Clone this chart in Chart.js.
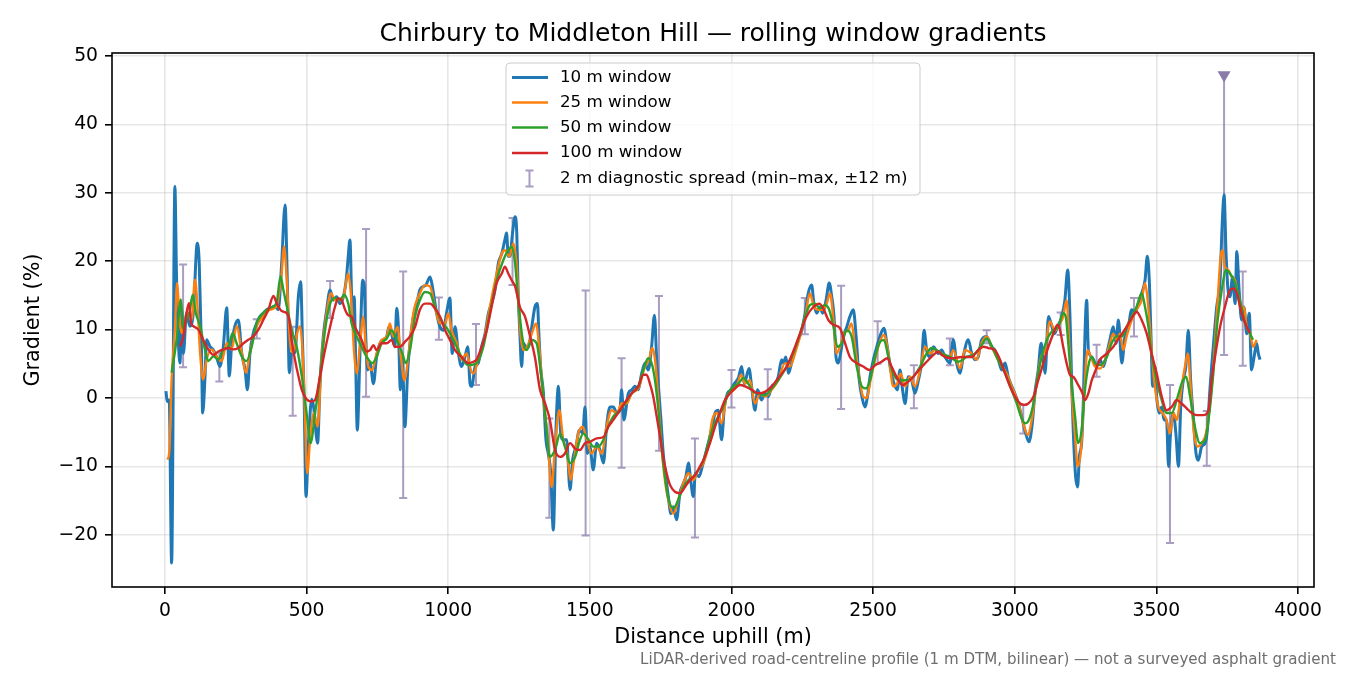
<!DOCTYPE html>
<html>
<head>
<meta charset="utf-8">
<title>Chirbury to Middleton Hill — rolling window gradients</title>
<script src="https://cdn.jsdelivr.net/npm/chart.js@4.4.0/dist/chart.umd.min.js"></script>
<style>
  body { margin: 0; background: #fff; }
  #contenedor { width: 1350px; height: 675px; }
</style>
</head>
<body>
<div id="contenedor"><canvas id="grafica" width="1350" height="675"></canvas></div>
<script>
  //Grafica de pendientes
  const $grafica = document.querySelector("#grafica");
  const titulo = "Chirbury to Middleton Hill \u2014 rolling window gradients";
  const nota = "LiDAR-derived road-centreline profile (1 m DTM, bilinear) \u2014 not a surveyed asphalt gradient";
  const etiquetas = ["10 m window", "25 m window", "50 m window", "100 m window", "2 m diagnostic spread (min\u2013max, \u00b112 m)"];
  const colores = ['#1f77b4', '#ff7f0e', '#2ca02c', '#d62728'];
  const colorError = 'rgba(112, 92, 152, 0.6)';
  const colorMarca = '#8a7aa8';

  //Ejes
  const ticksX = [0, 500, 1000, 1500, 2000, 2500, 3000, 3500, 4000];
  const ticksY = [-20, -10, 0, 10, 20, 30, 40, 50];
  const rangoX = [-187, 4056.5];
  const rangoY = [-27.62, 50.42];

  //Ventana 10 m
  const dist_10 = [3.5,8,15,23.5,35,41,53,59,65,76,88,100,114,121,129,133,141,147,159,171,182,194,206,218,227,235,247,259,271,283,291,300,312,324,335,347,359,371,388,400,412,424,432,439,447,459,471,479,486,491,498,506,518,526,
    530,539,547,559,571,583,594,606,618,630,641,647,653,659,665,668,673,679,688,698,704,708,716,724,736,747,759,771,783,791,800,812,818,824,831,838,847,857,865,877,889,900,912,921,936,944,959,971,983,994,1006,1014,1024,1036,1047,1059,1069,1077,
    1083,1095,1106,1118,1130,1142,1153,1165,1177,1189,1200,1206,1212,1218,1227,1236,1242,1247,1253,1259,1265,1275,1283,1295,1306,1315,1320,1326,1336,1345,1353,1362,1371,1380,1389,1397,1406,1418,1430,1439,1451,1463,1475,1483,1491,1500,1512,1524,1536,1548,1559,1571,1583,1595,1606,1612,1620,
    1636,1648,1659,1671,1683,1695,1706,1718,1728,1736,1744,1751,1759,1768,1777,1786,1795,1806,1818,1830,1839,1848,1856,1865,1873,1885,1897,1909,1921,1932,1942,1953,1965,1975,1986,1998,2010,2024,2036,2045,2062,2071,2083,2092,2106,2118,2130,2142,2154,2165,2177,
    2183,2192,2201,2212,2224,2236,2248,2260,2271,2283,2291,2301,2312,2322,2334,2345,2354,2362,2369,2377,2385,2395,2407,2418,2430,2440,2451,2463,2471,2480,2489,2501,2513,2524,2538,2550,2562,2574,2585,2595,2604,2613,2624,2636,2648,2660,2671,2680,2689,2701,2713,
    2730,2742,2754,2771,2783,2795,2807,2818,2836,2848,2860,2871,2883,2901,2918,2930,2942,2954,2966,2977,2995,3013,3024,3036,3050,3062,3071,3083,3093,3101,3107,3119,3128,3140,3151,3166,3177,3187,3195,3201,3207,3215,3222,3228,3236,3242,3248,3254,3260,3272,
    3278,3289,3301,3313,3325,3336,3348,3358,3366,3378,3389,3401,3413,3425,3436,3448,3460,3468,3475,3481,3487,3495,3501,3510,3519,3527,3536,3543,3550,3560,3569,3578,3586,3595,3604,3613,3621,3631,3640,3648,3660,3672,3680,3689,3701,3713,3725,3732,3739,3746,3753,3760,3769,3778,3784,3792,3801,3809,3819,3828,3836,3845,3854,3860,3866];
  const grad_10 = [1.0,-0.5,-0.3,-24.1,30.9,17.3,5.1,13,6.5,12.4,10.5,12.4,22.6,19.7,6.6,-2.2,2.7,8.5,7.5,7,6,4.6,7.5,13.2,3.2,7.5,10.5,11.4,6.5,4.1,1.2,6.5,9.5,10.9,11.9,12.4,12.9,13.1,13.4,12.9,19.7,28.2,17,3.7,6.6,6.6,14.9,17.0,7.5,0.7,-14.4,-7,-0.2,-1.7,
    -3.7,-6.6,1.7,9.0,12.9,15.8,14.3,14.8,13.8,14.8,17.7,20.7,23.1,14.8,10.4,14.8,6.0,-4.7,6.0,17.2,16.3,9.9,4.1,5.1,2.1,6.0,8.0,8.5,9.0,10.4,9.4,7.5,13.1,10.4,1.2,6.0,-4.2,4.1,8.0,11.9,13.8,15.8,16.3,16.5,17.7,16.3,12.4,10.4,9.9,12.4,14.6,6.5,10.4,6.5,4.6,6.0,7.5,2.1,
    1.7,4.6,5.1,7.5,9.4,12.4,13.8,15.8,19.7,21.1,23.1,24.1,20.7,20.7,24.1,26.5,24.1,15.3,9.4,4.6,8.0,7.5,7.5,10.4,13.3,13.8,9.4,4.6,0.7,-6.1,-8.1,-11.0,-19.3,-5.1,1.7,-5.1,-6.1,-6.1,-13.4,-9.1,-7.1,-4.7,-5.1,-1.3,-8.1,-7.1,-10.5,-6.6,-7.6,-9.5,-4.2,-1.3,-1.3,-2.2,-1.8,1.2,-3.2,
    0.7,1.2,1.7,1.2,3.6,5.1,4.1,7.5,12.1,5.6,0.7,-3.2,-8.1,-11.5,-14.4,-16.9,-15.9,-17.8,-13.9,-12.5,-11.5,-9.5,-12.0,-14.4,-11.0,-11.5,-10.0,-8.1,-6.1,-4.2,-2.2,-1.8,-6.1,-1.3,0.7,1.2,2.1,2.9,4.6,2.1,4.3,1.7,-1.8,1.2,-0.3,0.7,0.2,1.7,2.1,3.1,5.6,
    5.1,6.0,3.6,5.1,7.0,8.5,9.9,12.4,15.3,16.5,13.8,12.4,13.3,12.4,14.3,16.8,14.8,11.9,6.0,5.1,6.5,9.0,10.4,11.9,12.9,9.0,2.6,-0.3,-1.3,0.2,3.1,5.6,7.5,9.0,10.2,7.5,4.1,2.1,1.2,4.1,1.2,-0.8,3.1,2.6,0.7,2.6,5.1,9.9,7.0,6.0,7.5,
    6.5,7.0,6.0,5.1,8.5,5.1,3.6,6.0,8.5,6.5,5.6,6.0,8.5,9.0,7.5,7.0,5.6,4.1,5.1,3.1,1.2,-0.8,-2.7,-4.7,-6.4,-3.7,0.7,4.1,8.0,5.6,3.6,11.9,10.9,9.4,10.4,11.9,14.3,18.7,11.9,2.1,-5.2,-11.5,-13.0,-8.6,-6.6,-0.8,9.4,14.3,7.0,6.0,
    5.6,4.6,5.6,4.6,6.5,8.5,10.4,8.0,11.4,5.1,9.0,10.4,12.9,12.4,13.8,15.3,17.2,20.7,17.2,9.0,1.7,4.6,0.2,-2.2,-1.3,-3.2,-3.2,-10.0,-5.2,-2.2,-5.2,-10.0,-1.3,2.6,4.6,9.9,2.6,-3.2,-8.1,-9.1,-7.1,-6.6,-4.7,1.2,7.5,13.3,17.2,25.0,29.7,21.1,15.8,14.8,17.7,13.8,21.4,15.8,11.4,13.3,9.4,12.4,4.1,6.0,8.0,6.5,5.6];

  //Ventana 25 m
  const dist_25 = [8,15,23.5,35,43,50,59,70,82,94,106,114,124,135,147,165,182,200,218,235,253,271,286,300,324,347,371,394,412,420,430,441,453,467,477,486,494,502,514,526,
    539,553,571,586,600,618,630,647,657,668,677,688,700,708,718,732,747,765,783,794,806,821,833,845,859,877,900,918,936,953,971,989,1000,1012,1030,1047,1065,1080,
    1089,1106,1124,1147,1171,1189,1200,1216,1230,1242,1253,1265,1279,1295,1310,1322,1336,1350,1365,1377,1392,1406,1420,1432,1444,1459,1475,1489,1506,1524,1542,1559,1577,1595,1612,1630,
    1648,1671,1695,1709,1720,1730,1742,1753,1765,1777,1795,1812,1830,1848,1865,1883,1901,1918,1932,1948,1965,1983,2001,2018,2034,2048,2065,2083,2101,2118,2142,2165,
    2189,2207,2224,2242,2260,2277,2291,2307,2322,2336,2348,2360,2371,2383,2397,2412,2424,2436,2451,2465,2477,2491,2507,2522,2538,2554,2571,2585,2597,2613,2630,2648,2666,2683,2701,2718,
    2742,2771,2783,2807,2824,2848,2865,2883,2901,2918,2936,2954,2971,2989,3013,3030,3046,3060,3077,3093,3107,3124,3142,3160,3171,3183,3191,3203,3213,3222,3234,3246,3257,3269,
    3283,3301,3319,3336,3348,3360,3372,3383,3395,3413,3430,3448,3460,3468,3478,3492,3507,3522,3536,3548,3560,3572,3586,3601,3611,3621,3633,3645,3660,3675,3687,3701,3715,3727,3734,3742,3754,3766,3778,3789,3801,3809,3819,3831,3842,3854];
  const grad_25 = [-9.0,-8.0,2.7,10,16.8,12.4,9.5,11,12.4,11.4,17.3,13.9,6.6,2.7,5.6,7.1,6.1,5.4,8.0,7.1,10.5,6.6,3.7,6.6,10.5,11.9,12.9,13.4,18.3,22.2,17.3,8.5,6.6,9.5,10.5,6.6,-2.2,-11.0,-5.1,-2.2,
    -4.2,6.0,12.4,15.3,14.3,14.3,14.8,18.2,14.8,6.5,3.6,7.5,11.9,8.0,4.6,4.1,6.5,8.5,9.0,10.9,9.0,10.4,6.0,2.6,6.0,12.4,15.3,16.5,16.3,13.3,10.9,10.9,12.4,9.9,8.0,5.6,6.5,4.1,
    3.6,5.6,8.0,13.3,18.2,21.1,21.6,20.7,22.6,19.2,10.4,7.0,7.5,9.4,10.9,7.0,-0.3,-5.2,-13.0,-7.1,-1.8,-6.1,-8.1,-12.0,-9.1,-5.2,-4.2,-6.1,-8.1,-7.1,-8.1,-4.2,-1.8,-2.2,-0.8,-0.8,
    0.7,1.4,4.6,5.6,7.3,5.6,-0.3,-7.1,-12.0,-14.9,-16.9,-14.9,-12.5,-11.0,-12.0,-10.5,-9.5,-7.1,-3.2,-2.2,-3.7,0.2,0.9,1.7,3.4,2.1,2.6,-0.8,0.7,0.2,1.2,2.6,
    5.1,4.6,6.5,9.0,11.9,15.3,13.3,12.9,12.9,13.8,15.3,11.4,6.5,7.5,9.4,9.9,10.9,7.5,3.1,0.2,0.0,2.6,5.6,8.0,9.2,6.5,1.7,2.1,3.6,1.7,3.1,1.7,4.1,7.5,6.5,7.0,
    6.5,6.0,7.0,4.3,7.0,6.5,5.6,8.0,9.0,7.5,6.0,4.6,3.6,1.7,-0.8,-3.7,-5.4,-3.2,2.1,6.0,7.0,11.2,9.9,10.9,11.9,14.3,9.0,-0.3,-5.6,-10.0,-7.6,1.2,7.0,6.0,
    4.6,4.3,5.6,8.0,9.4,8.5,9.4,7.0,9.0,11.4,12.9,14.3,16.8,14.8,9.9,2.6,-1.3,-2.2,-3.2,-5.2,-2.2,-3.2,0.7,4.6,6.5,1.7,-5.2,-7.1,-6.6,-5.2,-1.8,4.6,13.3,20.7,21.6,19.2,18.7,17.7,17.2,14.8,12.9,13.3,10.4,9.4,7.5,8.5];

  //Ventana 50 m
  const dist_50 = [23.5,41,56,65,74,86,98,109,124,141,153,171,188,206,224,239,253,271,288,306,324,347,371,394,408,418,430,447,465,483,500,514,530,
    547,565,583,600,618,633,647,659,677,694,712,732,747,765,783,800,818,838,850,865,883,900,918,936,953,977,1000,1024,1047,1071,
    1100,1124,1147,1171,1195,1212,1224,1236,1247,1263,1277,1295,1312,1326,1342,1359,1377,1395,1412,1430,1448,1465,1477,1495,1512,1530,1548,1565,1583,1606,1624,
    1648,1671,1689,1706,1718,1730,1742,1753,1765,1777,1795,1812,1830,1848,1865,1883,1901,1918,1936,1953,1971,1989,2006,2024,2042,2059,2077,2095,2118,2142,2165,
    2195,2218,2242,2260,2277,2295,2312,2330,2345,2360,2374,2389,2407,2424,2442,2460,2475,2489,2507,2524,2538,2554,2571,2589,2607,2624,2642,2666,2689,2707,2724,
    2742,2771,2801,2830,2860,2883,2901,2918,2936,2954,2971,2989,3007,3022,3036,3050,3066,3083,3101,3119,3136,3154,3171,3180,3189,3201,3213,3224,3236,3248,3262,3272,
    3283,3301,3325,3342,3360,3378,3395,3413,3430,3448,3460,3472,3483,3501,3519,3536,3554,3572,3589,3605,3619,3636,3654,3672,3687,3701,3715,3731,3746,3760,3778,3795,3813,3831,3841];
  const grad_50 = [3.7,8.5,14.4,10,11.4,12.4,15.1,12.4,10.5,7.1,5.4,6.1,5.6,7.1,7.5,9.5,8.0,6.1,5.4,7.5,11.0,12.4,13.2,13.9,17.8,15.8,13.4,10.0,7.5,3.2,-2.2,-6.6,-2.2,
    3.1,9.9,13.8,14.6,14.3,15.1,13.8,10.9,9.0,7.5,6.0,5.1,6.0,8.0,8.7,9.9,8.5,6.5,5.1,7.0,11.9,14.3,15.5,15.3,13.3,11.2,9.9,8.0,6.0,4.8,
    5.1,7.5,12.4,17.2,20.2,21.6,22.1,19.7,14.3,8.5,7.0,8.5,8.0,4.1,-2.2,-8.6,-7.6,-5.2,-7.1,-9.5,-8.6,-6.1,-5.2,-6.1,-7.1,-7.1,-6.1,-4.2,-2.7,-1.8,-0.8,
    0.7,1.7,4.1,5.8,5.1,2.6,-1.8,-7.1,-11.5,-14.7,-16.1,-14.9,-13.0,-12.0,-11.5,-10.5,-9.1,-6.6,-4.2,-2.7,-1.3,0.7,1.7,2.1,2.9,2.1,0.9,0.7,0.4,1.4,2.6,
    4.6,6.5,9.4,11.9,13.6,13.8,13.1,13.6,12.9,10.4,7.5,8.0,9.9,9.0,4.6,1.7,1.4,2.6,6.0,8.2,8.5,6.0,3.6,2.6,2.6,2.6,3.1,4.6,6.5,7.3,7.0,
    6.5,6.0,5.3,6.0,6.5,7.7,8.7,7.7,6.0,4.6,3.1,1.2,-0.8,-2.7,-3.7,-3.2,-0.8,3.6,7.0,9.0,9.9,10.4,12.4,11.9,8.0,2.1,-2.7,-6.6,-4.7,1.2,5.1,6.0,
    5.1,4.8,6.0,8.0,9.0,9.0,10.4,11.9,13.3,15.3,13.3,10.4,6.5,2.6,-0.3,-2.2,-2.2,-0.3,2.1,3.1,0.2,-4.2,-6.6,-6.1,-2.2,3.6,10.9,15.8,18.7,18.2,16.8,14.3,10.9,9.4,8.5];

  //Ventana 100 m
  const dist_100 = [53,65,76,85,92,100,118,135,153,171,188,206,224,241,259,277,294,312,330,347,365,383,394,412,430,439,447,459,471,483,500,518,530,
    547,565,583,600,612,624,636,647,659,671,683,694,712,724,736,747,765,783,800,812,830,847,865,883,900,918,936,953,971,989,1006,1024,1047,1071,1089,
    1100,1118,1136,1153,1171,1189,1200,1212,1224,1236,1253,1271,1289,1306,1324,1342,1359,1377,1395,1412,1430,1448,1465,1483,1500,1524,1548,1565,1583,1606,1630,
    1648,1671,1689,1700,1712,1724,1736,1748,1759,1771,1783,1800,1818,1836,1853,1871,1889,1906,1924,1942,1959,1977,1995,2012,2030,2048,2071,2095,2118,2142,2165,
    2195,2218,2242,2265,2289,2310,2324,2342,2360,2383,2401,2418,2442,2465,2487,2507,2530,2550,2565,2583,2604,2624,2642,2666,2689,2713,2730,
    2742,2777,2813,2848,2871,2889,2907,2930,2948,2966,2983,3001,3019,3034,3048,3066,3083,3101,3119,3136,3151,3160,3171,3183,3195,3207,3224,3239,3248,3260,3272,3283,
    3301,3325,3348,3372,3395,3416,3430,3448,3466,3483,3501,3519,3536,3554,3572,3589,3607,3625,3642,3666,3684,3695,3707,3725,3742,3760,3772,3784,3801,3819,3830];
  const grad_100 = [7.5,9.0,12.4,13.9,11,10.5,10,8.5,7.1,6.3,6.8,7.1,7.3,7.1,7.3,8.0,8.5,9.0,10.0,11.4,12.9,14.9,13.9,12.7,12.4,11.4,8.5,5.6,3.2,1.2,-0.2,-0.5,-0.3,
    3.1,7.0,10.4,13.3,14.6,14.3,12.9,12.1,11.9,10.4,9.4,8.5,6.8,7.0,7.7,7.0,8.0,8.0,8.5,7.5,7.5,8.2,9.0,10.4,12.9,13.8,13.8,13.1,11.9,9.9,8.5,7.0,6.0,5.1,5.3,
    5.6,7.5,9.9,13.3,16.8,18.2,19.2,18.2,17.2,16.3,13.3,11.9,9.0,6.0,1.2,-0.8,-3.2,-7.6,-8.6,-8.1,-6.6,-7.4,-7.6,-6.6,-6.4,-5.9,-5.7,-4.2,-3.2,-1.8,-0.3,
    0.7,1.7,3.4,3.4,2.1,0.2,-2.7,-5.7,-8.6,-11.0,-12.7,-13.7,-13.9,-13.0,-12.0,-11.3,-10.0,-8.6,-6.6,-4.2,-2.2,-0.3,0.7,1.4,1.9,1.7,1.2,0.7,0.9,1.7,2.9,
    4.6,6.8,9.4,11.9,13.3,13.8,13.1,11.4,10.7,10.2,8.0,6.0,5.1,4.6,4.1,4.8,5.3,5.8,4.6,3.1,1.9,2.4,3.1,4.3,5.3,6.3,6.8,
    6.3,5.8,6.0,6.0,7.0,7.5,7.3,7.0,5.6,3.6,1.7,0.2,-0.8,-1.0,-0.8,0.2,2.6,5.1,7.5,9.4,10.7,9.9,7.5,5.1,3.4,3.1,1.9,0.7,-0.3,0.7,2.6,3.8,
    5.6,6.5,7.5,9.0,10.4,11.9,12.6,11.4,9.4,6.5,3.6,0.2,-1.8,-1.3,-0.3,-0.8,-1.5,-2.2,-2.5,-2.5,-1.8,2.6,6.0,10.4,13.3,15.8,16.0,15.3,12.4,10.4,9.5];

  //Dispersion diagnostica 2 m (min-max)
  const dist_err = [64,192,324,451,583,710,841,967,1098,1227,1357,1485,1612,1744,1871,2000,2128,2259,2387,2516,2644,2771,2901,3030,3162,3289,3421,3548,3678,3739,3805];
  const min_err = [4.5,2.4,8.7,-2.6,11.7,0.2,-14.6,8.5,1.9,16.5,-17.5,-20.1,-10.2,-7.7,-20.4,-1.4,-3.1,9.3,-1.6,5.0,-1.5,4.8,8.0,-5.2,9.2,3.1,9.0,-21.2,-9.9,6.3,4.7];
  const max_err = [19.5,6.6,11.5,10.4,17.1,24.7,18.5,14.7,10.8,26.3,-3.0,15.7,5.8,14.9,-5.9,4.1,4.2,14.6,16.4,11.2,4.8,8.7,9.9,-1.0,12.5,7.8,14.6,1.9,-1.9,47.2,18.5];
  //Valor fuera de escala
  const dist_fuera = [3739];
  const grad_fuera = [47.2];

  let puntos = function(xs, ys) {
    return xs.map((x, i) => ({x: x, y: ys[i]}));
  }

  let formatoTick = function(v) {
    return v < 0 ? '\u2212' + Math.abs(v) : String(v);
  }

  ////////////////////////////BARRAS DE ERROR////////////////////////////
  const barrasError = {
    id: 'barrasError',
    beforeDatasetsDraw(chart) {
      const {ctx, chartArea, scales} = chart;
      ctx.save();
      ctx.beginPath();
      ctx.rect(chartArea.left, chartArea.top, chartArea.right - chartArea.left, chartArea.bottom - chartArea.top);
      ctx.clip();
      ctx.strokeStyle = colorError;
      ctx.lineWidth = 2;
      dist_err.forEach((d, i) => {
        const px = scales.x.getPixelForValue(d);
        const pMin = scales.y.getPixelForValue(min_err[i]);
        const pMax = scales.y.getPixelForValue(max_err[i]);
        ctx.beginPath();
        ctx.moveTo(px, pMin); ctx.lineTo(px, pMax);
        ctx.moveTo(px - 4, pMin); ctx.lineTo(px + 4, pMin);
        if (!dist_fuera.includes(d)) {
          ctx.moveTo(px - 4, pMax); ctx.lineTo(px + 4, pMax);
        }
        ctx.stroke();
      });
      ctx.restore();
    }
  };

  ////////////////////////////MARCO, LEYENDA Y NOTA////////////////////////////
  const marco = {
    id: 'marco',
    afterDraw(chart) {
      const {ctx, chartArea} = chart;
      ctx.save();
      ctx.strokeStyle = '#000';
      ctx.lineWidth = 1.6;
      ctx.strokeRect(chartArea.left, chartArea.top, chartArea.right - chartArea.left, chartArea.bottom - chartArea.top);

      // leyenda
      const lx = 506, ly = 63, lw = 414, lh = 132;
      ctx.beginPath();
      ctx.roundRect(lx, ly, lw, lh, 4);
      ctx.fillStyle = 'rgba(255,255,255,0.8)';
      ctx.fill();
      ctx.strokeStyle = '#cccccc';
      ctx.lineWidth = 1;
      ctx.stroke();

      const filas = [77.5, 102.5, 127.5, 153, 178.5];
      const anchos = [3, 2.4, 2.4, 2.4];
      ctx.font = '16.7px "DejaVu Sans"';
      ctx.textBaseline = 'middle';
      ctx.textAlign = 'left';
      filas.forEach((fy, i) => {
        if (i < 4) {
          ctx.strokeStyle = colores[i];
          ctx.lineWidth = anchos[i];
          ctx.beginPath();
          ctx.moveTo(512, fy); ctx.lineTo(548, fy);
          ctx.stroke();
        } else {
          ctx.strokeStyle = colorError;
          ctx.lineWidth = 2;
          ctx.beginPath();
          ctx.moveTo(529.5, fy - 8); ctx.lineTo(529.5, fy + 8);
          ctx.moveTo(525.5, fy - 8); ctx.lineTo(533.5, fy - 8);
          ctx.moveTo(525.5, fy + 8); ctx.lineTo(533.5, fy + 8);
          ctx.stroke();
        }
        ctx.fillStyle = '#000';
        ctx.fillText(etiquetas[i], 560, fy);
      });

      // nota al pie
      ctx.font = '15.1px "DejaVu Sans"';
      ctx.fillStyle = '#6e6e6e';
      ctx.textAlign = 'right';
      ctx.fillText(nota, 1336, 660);
      ctx.restore();
    }
  };

  Chart.defaults.font.family = '"DejaVu Sans", sans-serif';
  Chart.defaults.color = '#000';

  new Chart($grafica, {
    type: 'line',
    data: {
      datasets: [
        {
          label: etiquetas[0],
          data: puntos(dist_10, grad_10),
          borderColor: colores[0],
          borderWidth: 3,
          order: 4
        },
        {
          label: etiquetas[1],
          data: puntos(dist_25, grad_25),
          borderColor: colores[1],
          borderWidth: 2.4,
          order: 3
        },
        {
          label: etiquetas[2],
          data: puntos(dist_50, grad_50),
          borderColor: colores[2],
          borderWidth: 2.4,
          order: 2
        },
        {
          label: etiquetas[3],
          data: puntos(dist_100, grad_100),
          borderColor: colores[3],
          borderWidth: 2.4,
          order: 1
        },
        {
          label: 'fuera de escala',
          data: puntos(dist_fuera, grad_fuera),
          showLine: false,
          pointStyle: 'triangle',
          rotation: 180,
          pointRadius: 7.5,
          backgroundColor: colorMarca,
          borderColor: colorMarca,
          borderWidth: 0,
          order: 0
        }
      ]
    },
    options: {
      responsive: false,
      animation: false,
      devicePixelRatio: 1,
      events: [],
      layout: { padding: { left: 0, right: 36, top: 0, bottom: 0 } },
      elements: {
        point: { radius: 0 },
        line: { cubicInterpolationMode: 'monotone', fill: false }
      },
      plugins: {
        legend: { display: false },
        tooltip: { enabled: false },
        title: {
          display: true,
          text: titulo,
          fullSize: false,
          font: { size: 25, weight: 'normal' },
          color: '#000',
          padding: { top: 19, bottom: 4 }
        }
      },
      scales: {
        x: {
          type: 'linear',
          min: rangoX[0],
          max: rangoX[1],
          afterBuildTicks: s => { s.ticks = ticksX.map(v => ({value: v})); },
          afterFit: s => { s.height = 88; s.paddingLeft = 0; s.paddingRight = 0; },
          grid: { color: 'rgba(176,176,176,0.3)', lineWidth: 1.6, tickColor: '#000', tickWidth: 1.6, tickLength: 7 },
          border: { display: false },
          ticks: { font: { size: 18.75 }, color: '#000', padding: 6, maxRotation: 0, callback: formatoTick },
          title: { display: true, text: 'Distance uphill (m)', font: { size: 20.8 }, color: '#000', padding: { bottom: 24.5 } }
        },
        y: {
          type: 'linear',
          min: rangoY[0],
          max: rangoY[1],
          afterBuildTicks: s => { s.ticks = ticksY.map(v => ({value: v})); },
          afterFit: s => { s.width = 112; s.paddingTop = 0; s.paddingBottom = 0; },
          grid: { color: 'rgba(176,176,176,0.3)', lineWidth: 1.6, tickColor: '#000', tickWidth: 1.6, tickLength: 7 },
          border: { display: false },
          ticks: { font: { size: 18.75 }, color: '#000', padding: 7, callback: formatoTick },
          title: { display: true, text: 'Gradient (%)', font: { size: 20.8 }, color: '#000', padding: { top: 21.5 } }
        }
      }
    },
    plugins: [barrasError, marco]
  });
</script>
</body>
</html>
